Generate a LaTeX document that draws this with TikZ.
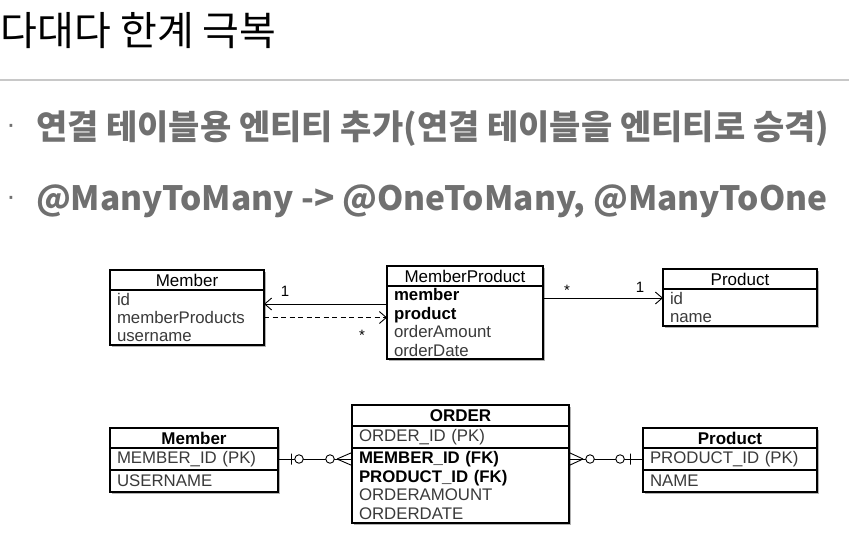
\documentclass[tikz,border=0pt]{standalone}
\usepackage{fontspec}
\setmainfont{Liberation Sans}
\newfontfamily\krfont{Noto Sans CJK KR}
\usetikzlibrary{arrows.meta,positioning,shadows}

\definecolor{rulegray}{HTML}{C8C8C8}
\definecolor{bulletgray}{HTML}{707070}
\definecolor{attrgray}{HTML}{3A3A3A}

\begin{document}
\begin{tikzpicture}[x=1pt, y=-1pt,
  every node/.style={font=\fontsize{16.8}{18.4}\selectfont, inner sep=0pt, outer sep=0pt},
  boxshadow/.style={drop shadow={shadow xshift=1.8pt, shadow yshift=-1.8pt, opacity=.3, fill=black}},
  ttl/.style={draw, fill=white, line width=1.2pt, minimum height=20pt, font=\fontsize{17}{18.4}\selectfont, boxshadow},
  attr/.style={draw, fill=white, line width=1.2pt, inner xsep=7pt, align=left, text=attrgray, boxshadow},
  heading/.style={anchor=west, font=\krfont\fontsize{40}{44}\selectfont},
  point/.style={anchor=west, text=bulletgray, font=\krfont\bfseries\fontsize{#1}{38}\selectfont},
  bul/.style={text=bulletgray, font=\fontsize{28}{30}\selectfont},
  mult/.style={font=\fontsize{15}{16}\selectfont},
  assoc/.style={line width=0.9pt, -{Straight Barb[length=7pt,width=12pt]}},
  erline/.style={line width=0.9pt},
  erc/.style={circle, draw, fill=white, line width=0.9pt, minimum size=8.5pt},
  erbar/.style={draw, line width=0.9pt, minimum width=0pt, minimum height=11pt}
]
\useasboundingbox (0,0) rectangle (849,544);

% heading and bullets
\node[heading] (head) at (1,31) {다대다 한계 극복};
\draw[rulegray, line width=2.2pt] (0,80) -- (849,80);
\node[bul] (b1) at (11,129) {·};
\node[point=34] (p1) at (36,129) {연결 테이블용 엔티티 추가(연결 테이블을 엔티티로 승격)};
\node[bul] (b2) at (11,201) {·};
\node[point=33.5] (p2) at (36,201) {@ManyToMany -> @OneToMany, @ManyToOne};

% object model
\node[ttl, minimum width=154pt, anchor=north] (mbrT) at (187,270) {Member};
\node[attr, text width=140pt, minimum height=55pt, below=0pt of mbrT] (mbrA) {id\\memberProducts\\username};
\node[ttl, minimum width=156pt, anchor=north] (mpT) at (465,266) {MemberProduct};
\node[attr, text width=142pt, minimum height=73pt, below=0pt of mpT] (mpA) {\textcolor{black}{\textbf{member}}\\\textcolor{black}{\textbf{product}}\\orderAmount\\orderDate};
\node[ttl, minimum width=154pt, anchor=north] (prT) at (740,269) {Product};
\node[attr, text width=140pt, minimum height=37pt, below=0pt of prT] (prA) {id\\name};

\draw[assoc] ([yshift=18.5pt]mpA.west) -- ([yshift=18.5pt]mpA.west -| mbrA.east);
\draw[assoc, dash pattern=on 5pt off 3.5pt] (mbrA.east) -- (mbrA.east -| mpA.west);
\draw[assoc] ([yshift=24.5pt]mpA.east) -- ([yshift=24.5pt]mpA.east -| prA.west);
\node[mult] (m1) at (285,291) {1};
\node[mult] (m2) at (362,335) {*};
\node[mult] (m3) at (567,290) {*};
\node[mult] (m4) at (640,287) {1};

% table model
\node[ttl, minimum width=168pt, anchor=north, font=\bfseries\fontsize{17}{18.4}\selectfont] (emT) at (194,428) {Member};
\node[attr, text width=154pt, minimum height=22pt, below=0pt of emT] (emPk) {MEMBER\_ID (PK)};
\node[attr, text width=154pt, minimum height=22pt, below=0pt of emPk] (emA) {USERNAME};
\node[ttl, minimum width=217pt, minimum height=21pt, anchor=north, font=\bfseries\fontsize{17}{18.4}\selectfont] (orT) at (460.5,405) {ORDER};
\node[attr, text width=203pt, minimum height=22pt, below=0pt of orT] (orPk) {ORDER\_ID (PK)};
\node[attr, text width=203pt, minimum height=75pt, below=0pt of orPk] (orA) {\textcolor{black}{\textbf{MEMBER\_ID (FK)}}\\\textcolor{black}{\textbf{PRODUCT\_ID (FK)}}\\ORDERAMOUNT\\ORDERDATE};
\node[ttl, minimum width=174pt, anchor=north, font=\bfseries\fontsize{17}{18.4}\selectfont] (epT) at (730,428) {Product};
\node[attr, text width=160pt, minimum height=22pt, below=0pt of epT] (epPk) {PRODUCT\_ID (PK)};
\node[attr, text width=160pt, minimum height=22pt, below=0pt of epPk] (epA) {NAME};

\draw[erline] (emPk.east) -- node[erbar, pos=.176]{} node[erc, pos=.284]{} node[erc, pos=.703]{} coordinate[pos=.797] (crowL) (emPk.east -| orT.west);
\draw[erline] (crowL) -- ([yshift=6.5pt]emPk.east -| orT.west) (crowL) -- ([yshift=-6.5pt]emPk.east -| orT.west);
\draw[erline] (epPk.west -| orT.east) -- coordinate[pos=.19] (crowR) node[erc, pos=.284]{} node[erc, pos=.69]{} node[erbar, pos=.824]{} (epPk.west);
\draw[erline] (crowR) -- ([yshift=6.5pt]epPk.west -| orT.east) (crowR) -- ([yshift=-6.5pt]epPk.west -| orT.east);
\end{tikzpicture}
\end{document}
